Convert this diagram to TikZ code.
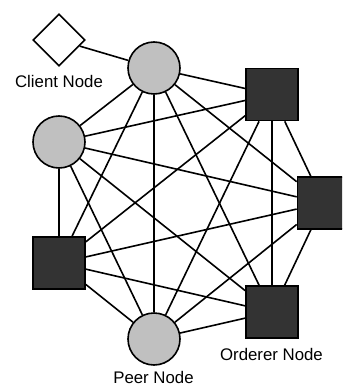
\documentclass[tikz,border=0pt]{standalone}
\usepackage{fontspec}
\setmainfont{Liberation Sans}
\usetikzlibrary{shapes.geometric}
\definecolor{peergray}{RGB}{192,192,192}
\definecolor{ordgray}{RGB}{51,51,51}
\tikzset{
  peer/.style={circle, draw=black, line width=1.6pt, fill=peergray, minimum size=52pt, inner sep=0pt},
  orderer/.style={rectangle, draw=black, line width=1.6pt, fill=ordgray, minimum size=52pt, inner sep=0pt},
  client/.style={diamond, draw=black, line width=1.6pt, fill=white, minimum width=52pt, minimum height=52pt, inner sep=0pt},
  link/.style={draw=black, line width=1.6pt},
  lbl/.style={font=\fontsize{16.8}{19}\selectfont, anchor=base, inner sep=0pt}
}
\begin{document}
\begin{tikzpicture}[x=1pt,y=-1pt]
\useasboundingbox (0,0) rectangle (342,387);
\begin{scope}
\clip (0,0) rectangle (342,387);
\node[client] (c) at (59,40) {};
\node[peer] (p1) at (154,68) {};
\node[peer] (p2) at (59,142) {};
\node[peer] (p3) at (154,339) {};
\node[orderer] (o1) at (272,94.5) {};
\node[orderer] (o2) at (323.5,203) {};
\node[orderer] (o3) at (59,263) {};
\node[orderer] (o4) at (272,312) {};
\node[lbl] (lc) at (59,88) {Client Node};
\node[lbl] (lo) at (271.5,360) {Orderer Node};
\node[lbl] (lp) at (153.5,383.5) {Peer Node};
\draw[link] (c) -- (p1);
\foreach \a/\b in {p1/p2,p1/p3,p1/o1,p1/o2,p1/o3,p1/o4,
                   p2/p3,p2/o1,p2/o2,p2/o3,p2/o4,
                   p3/o1,p3/o2,p3/o3,p3/o4,
                   o1/o2,o1/o3,o1/o4,
                   o2/o3,o2/o4,
                   o3/o4}
  \draw[link] (\a) -- (\b);
\end{scope}
\end{tikzpicture}
\end{document}
